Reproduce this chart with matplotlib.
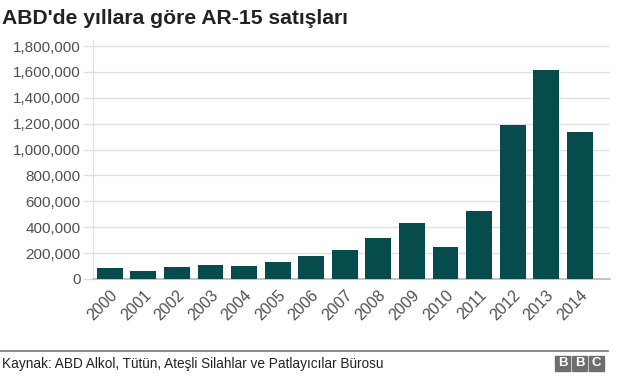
import matplotlib
matplotlib.use("Agg")
import matplotlib.pyplot as plt
from matplotlib.patches import Rectangle
from matplotlib.ticker import FuncFormatter, MultipleLocator

plt.rcParams['font.family'] = ['Liberation Sans', 'DejaVu Sans']

years = ['2000', '2001', '2002', '2003', '2004', '2005', '2006', '2007',
         '2008', '2009', '2010', '2011', '2012', '2013', '2014']
sales = [82000, 58000, 90000, 105000, 100000, 131000, 181000, 222000,
         313000, 431000, 244000, 525000, 1187000, 1612000, 1134000]

title = "ABD'de yıllara göre AR-15 satışları"
source = "Kaynak: ABD Alkol, Tütün, Ateşli Silahlar ve Patlayıcılar Bürosu"

bar_color = '#064c4c'
grid_color = '#e0e0e0'
text_color = '#505050'

fig = plt.figure(figsize=(6.4, 3.76), dpi=100)
ax = fig.add_axes([93/640, 1 - 279/376, (610-93)/640, (279-40)/376])

x = list(range(len(years)))
ax.bar(x, sales, width=0.77, color=bar_color, zorder=3)
ax.set_xlim(-0.5, 14.9)
ax.set_ylim(0, 1800000 * (279-40) / (279-46))

ax.yaxis.set_major_locator(MultipleLocator(200000))
ax.yaxis.set_major_formatter(FuncFormatter(lambda v, p: f"{int(v):,}"))
ax.grid(axis='y', color=grid_color, linewidth=1, zorder=0)
ax.set_axisbelow(True)

ax.set_xticks(x)
ax.set_xticklabels(years, rotation=45, ha='right', rotation_mode='anchor')
ax.tick_params(axis='x', length=0, pad=6, labelsize=11.5, labelcolor=text_color)
ax.tick_params(axis='y', length=7, width=1, color=grid_color, pad=2,
               labelsize=11, labelcolor=text_color)

for s in ['top', 'right']:
    ax.spines[s].set_visible(False)
ax.spines['left'].set_color(grid_color)
ax.spines['bottom'].set_color('#bbbbbb')
ax.spines['bottom'].set_linewidth(1.2)

fig.text(2/640, 1 - 18/376, title, fontsize=15.2, fontweight='bold',
         color='#222222', va='center', ha='left')

# footer line
fig.add_artist(plt.Line2D([0, 608/640], [1 - 351/376, 1 - 351/376],
                          color='#777777', linewidth=1.2, transform=fig.transFigure))
fig.text(2/640, 1 - 364/376, source, fontsize=9.8, color='#222222',
         va='center', ha='left')

# BBC logo
for i, letter in enumerate('BBC'):
    x0 = (555 + i * 17) / 640
    fig.add_artist(Rectangle((x0, 1 - 371/376), 15/640, 15/376,
                             color='#6e6e6e', transform=fig.transFigure))
    fig.text(x0 + 7.5/640, 1 - 363.5/376, letter, fontsize=9.5, fontweight='bold',
             color='white', ha='center', va='center')

fig.savefig('out.png', dpi=100)
